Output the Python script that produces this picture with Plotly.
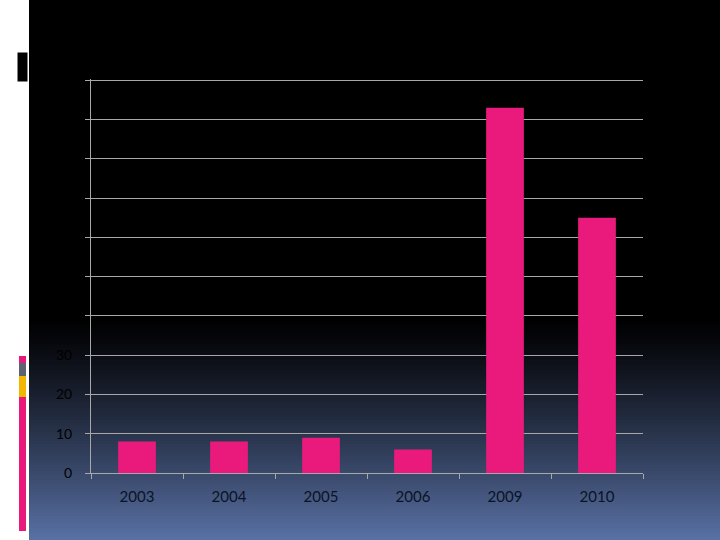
import plotly.graph_objects as go

years = ["2003", "2004", "2005", "2006", "2009", "2010"]
counts = [8, 8, 9, 6, 93, 65]
y_ticks = [0, 10, 20, 30, 40, 50, 60, 70, 80, 90, 100]

W, H = 720, 540
L, R, T, B = 91, 643, 79, 473  # plot area in pixels


def px_x(p):
    return (p - L) / (R - L)


def px_y(p):
    return (B - p) / (B - T)


shapes = []
# gradient background: black at the top, slate blue at the bottom
top_c = (0, 0, 0)
bot_c = (90, 114, 166)
g0, g1 = 315, 540
step = 3
for y in range(g0, g1, step):
    f = ((y - g0) / (g1 - g0)) ** 1.2
    c = tuple(int(top_c[i] + (bot_c[i] - top_c[i]) * f) for i in range(3))
    shapes.append(dict(type="rect", xref="paper", yref="paper",
                       x0=px_x(29), x1=px_x(W), y0=px_y(y + step), y1=px_y(y),
                       fillcolor="rgb(%d,%d,%d)" % c, line_width=0, layer="below"))

# white left strip with its little decorations
shapes.append(dict(type="rect", xref="paper", yref="paper",
                   x0=px_x(0), x1=px_x(29), y0=px_y(H), y1=px_y(0),
                   fillcolor="white", line_width=0, layer="below"))
shapes.append(dict(type="rect", xref="paper", yref="paper",
                   x0=px_x(17), x1=px_x(28), y0=px_y(82), y1=px_y(52),
                   fillcolor="black", line=dict(color="white", width=1), layer="below"))
for y0, y1, col in [(356, 363, "#e8197a"), (363, 376, "#5b6470"),
                    (376, 397, "#f2b800"), (397, 531, "#e8197a")]:
    shapes.append(dict(type="rect", xref="paper", yref="paper",
                       x0=px_x(19), x1=px_x(26), y0=px_y(y1), y1=px_y(y0),
                       fillcolor=col, line_width=0, layer="below"))

fig = go.Figure()
fig.add_trace(go.Bar(
    x=years,
    y=counts,
    marker=dict(color="#ea1a7c", line_width=0),
    width=0.41,
))

fig.update_layout(
    width=W, height=H,
    margin=dict(l=L, r=W - R, t=T, b=H - B),
    paper_bgcolor="black",
    plot_bgcolor="rgba(0,0,0,0)",
    shapes=shapes,
    showlegend=False,
    font=dict(family="Lato", size=15, color="#000000"),
)
fig.update_yaxes(
    range=[0, 100.3], tickvals=y_ticks, showgrid=True,
    gridcolor="#a8a8a8", gridwidth=1,
    showline=True, linecolor="#a8a8a8", linewidth=1,
    ticks="outside", ticklen=5, tickcolor="#a8a8a8",
    ticklabelstandoff=10,
    zeroline=False, tickfont=dict(color="#000000", size=14),
)
fig.update_xaxes(
    showline=True, linecolor="#a8a8a8", linewidth=1,
    ticks="outside", ticklen=5, tickcolor="#a8a8a8",
    tickson="boundaries", showgrid=False,
    ticklabelstandoff=10,
    tickfont=dict(color="#0a1226", size=15),
)

fig.write_html("out.html", config={"displayModeBar": False},
               post_script="document.body.style.margin='0';")
